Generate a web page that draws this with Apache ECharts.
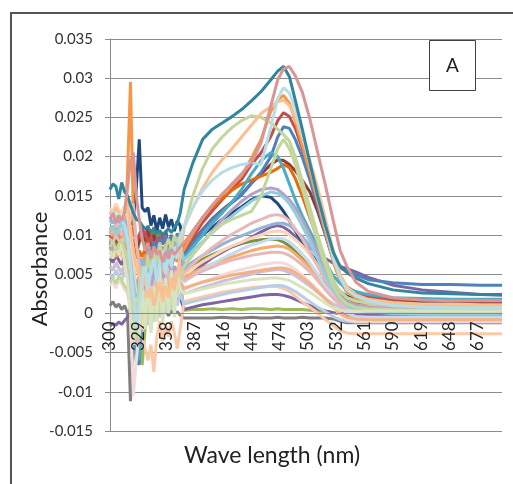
<!DOCTYPE html>
<html><head><meta charset="utf-8">
<script src="https://cdn.jsdelivr.net/npm/echarts@6/dist/echarts.min.js"></script>
<style>html,body{margin:0;padding:0;background:#fff}#c{width:513px;height:484px}</style>
</head><body><div id="c"></div>
<script>
const waves=[300,303,306,309,312,315,318,321,324,327,330,333,336,339,342,345,348,351,354,357,360,363,366,369,372,
376,385,395,405,415,425,435,445,455,465,472,478,484,490,497,505,513,521,529,536,543,552,565,590,620,650,680,702];
const xTickLabels=[300,329,358,387,416,445,474,503,532,561,590,619,648,677];

const absGray=[0.0010,0.0015,0.0008,0.0012,0.0005,0.0010,0.0000,-0.0112,-0.0030,0.0010,0.0000,0.0005,-0.0005,0.0008,-0.0002,0.0006,-0.0004,0.0005,0.0000,0.0004,-0.0003,0.0003,0.0000,0.0002,-0.0002,
-0.0006,-0.0006,-0.0006,-0.0006,-0.0005,-0.0006,-0.0006,-0.0005,-0.0006,-0.0006,-0.0005,-0.0006,-0.0006,-0.0006,-0.0005,-0.0006,-0.0006,-0.0006,-0.0007,-0.0010,-0.0012,-0.0012,-0.0012,-0.0012,-0.0012,-0.0012,-0.0012,-0.0012];
const absGreen=[0.0060,0.0055,0.0065,0.0058,0.0052,0.0062,0.0055,0.0040,0.0020,-0.0010,-0.0040,-0.0066,-0.0020,0.0010,0.0030,0.0045,0.0035,0.0050,0.0040,0.0055,0.0045,0.0050,0.0042,0.0048,0.0040,
0.0004,0.0005,0.0005,0.0006,0.0005,0.0006,0.0005,0.0006,0.0006,0.0005,0.0006,0.0005,0.0005,0.0005,0.0005,0.0004,0.0003,0.0002,0.0001,0.0000,-0.0002,-0.0003,-0.0004,-0.0004,-0.0004,-0.0004,-0.0004,-0.0004];
const absPurpleLow=[-0.0016,-0.0013,-0.0015,-0.0011,-0.0014,-0.0009,-0.0005,0.0010,0.0025,0.0015,0.0030,0.0020,0.0035,0.0015,0.0030,0.0010,0.0025,0.0015,0.0030,0.0020,0.0028,0.0018,0.0025,0.0015,0.0020,
0.0005,0.0008,0.0011,0.0013,0.0015,0.0017,0.0019,0.0021,0.0023,0.0024,0.0024,0.0023,0.0021,0.0018,0.0014,0.0010,0.0006,0.0003,0.0001,0.0000,-0.0001,-0.0001,-0.0001,-0.0001,-0.0001,-0.0001,-0.0001,-0.0001];
const absPeachLow=[0.0070,0.0075,0.0068,0.0078,0.0072,0.0065,0.0060,0.0040,0.0010,-0.0020,0.0000,-0.0030,-0.0045,-0.0060,-0.0040,-0.0075,-0.0030,-0.0010,-0.0035,-0.0015,-0.0030,-0.0010,-0.0025,-0.0045,-0.0020,
0.0015,0.0018,0.0021,0.0024,0.0027,0.0029,0.0031,0.0033,0.0034,0.0035,0.0034,0.0032,0.0028,0.0022,0.0015,0.0008,0.0000,-0.0008,-0.0016,-0.0022,-0.0025,-0.0026,-0.0026,-0.0026,-0.0026,-0.0026,-0.0026,-0.0026];
const absBlueLow=[0.0050,0.0045,0.0055,0.0048,0.0042,0.0052,0.0045,0.0030,0.0000,-0.0030,-0.0010,-0.0025,0.0000,-0.0015,0.0005,-0.0010,0.0010,-0.0005,0.0015,0.0000,0.0015,0.0005,0.0020,0.0010,0.0025,
0.0012,0.0015,0.0018,0.0021,0.0024,0.0027,0.0029,0.0031,0.0033,0.0035,0.0036,0.0035,0.0032,0.0028,0.0022,0.0015,0.0008,0.0002,-0.0004,-0.0008,-0.0010,-0.0011,-0.0011,-0.0011,-0.0011,-0.0011,-0.0011,-0.0011];
const absDarkGreen=[0.0090,0.0095,0.0088,0.0098,0.0092,0.0085,0.0080,0.0070,0.0085,0.0075,0.0090,0.0100,0.0085,0.0105,0.0092,0.0110,0.0095,0.0102,0.0088,0.0098,0.0090,0.0100,0.0085,0.0095,0.0090,
0.0055,0.0062,0.0069,0.0075,0.0080,0.0085,0.0089,0.0092,0.0094,0.0095,0.0094,0.0091,0.0086,0.0079,0.0070,0.0060,0.0049,0.0038,0.0029,0.0024,0.0021,0.0019,0.0017,0.0016,0.0016,0.0015,0.0015,0.0015];
const absPurple=[0.0070,0.0065,0.0075,0.0068,0.0062,0.0072,0.0080,0.0090,0.0075,0.0085,0.0100,0.0110,0.0095,0.0108,0.0090,0.0102,0.0088,0.0098,0.0092,0.0105,0.0085,0.0100,0.0090,0.0095,0.0088,
0.0042,0.0052,0.0062,0.0071,0.0078,0.0085,0.0090,0.0097,0.0104,0.0110,0.0112,0.0110,0.0105,0.0098,0.0091,0.0084,0.0077,0.0070,0.0064,0.0060,0.0057,0.0053,0.0046,0.0036,0.0030,0.0027,0.0024,0.0023];
const absDarkRed=[0.0090,0.0085,0.0095,0.0088,0.0080,0.0092,0.0085,0.0100,0.0090,0.0080,0.0095,0.0105,0.0092,0.0112,0.0085,0.0100,0.0078,0.0095,0.0088,0.0105,0.0080,0.0098,0.0090,0.0085,0.0092,
0.0076,0.0092,0.0107,0.0121,0.0132,0.0142,0.0152,0.0166,0.0178,0.0190,0.0196,0.0195,0.0190,0.0182,0.0170,0.0155,0.0130,0.0100,0.0068,0.0045,0.0032,0.0024,0.0018,0.0015,0.0014,0.0013,0.0013,0.0013];
const absNavy=[0.0085,0.0090,0.0082,0.0092,0.0088,0.0095,0.0100,0.0110,0.0120,0.0160,0.0222,0.0135,0.0130,0.0135,0.0112,0.0125,0.0105,0.0122,0.0108,0.0126,0.0110,0.0120,0.0105,0.0118,0.0112,
0.0075,0.0088,0.0100,0.0110,0.0120,0.0128,0.0136,0.0145,0.0150,0.0148,0.0140,0.0130,0.0118,0.0105,0.0092,0.0078,0.0064,0.0050,0.0037,0.0028,0.0022,0.0018,0.0015,0.0013,0.0012,0.0012,0.0011,0.0011];
const absRed=[0.0100,0.0092,0.0105,0.0098,0.0090,0.0102,0.0095,0.0088,0.0110,0.0090,0.0100,0.0095,0.0105,0.0088,0.0098,0.0080,0.0095,0.0085,0.0100,0.0090,0.0082,0.0095,0.0088,0.0098,0.0092,
0.0078,0.0097,0.0116,0.0131,0.0145,0.0158,0.0171,0.0190,0.0205,0.0226,0.0246,0.0256,0.0251,0.0236,0.0211,0.0179,0.0146,0.0106,0.0068,0.0045,0.0034,0.0027,0.0021,0.0018,0.0017,0.0016,0.0016,0.0016];
const absBlue=[0.0095,0.0088,0.0100,0.0092,0.0085,0.0098,0.0090,0.0060,0.0030,-0.0062,-0.0065,0.0020,0.0070,0.0085,0.0078,0.0092,0.0080,0.0095,0.0088,0.0100,0.0090,0.0098,0.0092,0.0102,0.0095,
0.0072,0.0090,0.0106,0.0120,0.0131,0.0141,0.0151,0.0166,0.0180,0.0200,0.0225,0.0238,0.0236,0.0222,0.0200,0.0170,0.0136,0.0101,0.0068,0.0058,0.0054,0.0049,0.0043,0.0039,0.0037,0.0037,0.0036,0.0036];
const absDarkOrange=[0.0085,0.0080,0.0090,0.0083,0.0078,0.0088,0.0082,0.0075,0.0085,0.0070,0.0080,0.0072,0.0082,0.0068,0.0078,0.0070,0.0080,0.0074,0.0085,0.0072,0.0080,0.0075,0.0088,0.0078,0.0082,
0.0085,0.0105,0.0122,0.0135,0.0147,0.0157,0.0165,0.0170,0.0175,0.0180,0.0185,0.0190,0.0186,0.0172,0.0150,0.0122,0.0095,0.0068,0.0042,0.0025,0.0016,0.0012,0.0010,0.0009,0.0009,0.0009,0.0009,0.0009];
const absOrange=[0.0105,0.0098,0.0110,0.0102,0.0095,0.0108,0.0180,0.0295,0.0120,0.0085,0.0070,0.0060,0.0075,0.0055,0.0068,0.0050,0.0062,0.0058,0.0070,0.0052,0.0065,0.0060,0.0072,0.0066,0.0075,
0.0082,0.0102,0.0122,0.0138,0.0152,0.0163,0.0176,0.0198,0.0222,0.0258,0.0272,0.0278,0.0268,0.0246,0.0215,0.0180,0.0143,0.0104,0.0066,0.0040,0.0027,0.0020,0.0015,0.0012,0.0011,0.0011,0.0010,0.0010];
const absTeal2=[0.0110,0.0105,0.0115,0.0108,0.0100,0.0112,0.0098,0.0080,0.0055,-0.0060,-0.0058,0.0030,0.0050,0.0065,0.0045,0.0070,0.0055,0.0075,0.0060,0.0068,0.0078,0.0062,0.0072,0.0080,0.0090,
0.0070,0.0085,0.0100,0.0115,0.0128,0.0142,0.0158,0.0178,0.0195,0.0205,0.0200,0.0185,0.0165,0.0145,0.0125,0.0105,0.0085,0.0065,0.0048,0.0038,0.0032,0.0028,0.0024,0.0020,0.0019,0.0018,0.0018,0.0018];
const absLightOrange=[0.0075,0.0080,0.0072,0.0082,0.0078,0.0070,0.0065,0.0045,0.0020,0.0005,0.0025,0.0010,0.0035,0.0015,0.0040,0.0020,0.0045,0.0030,0.0050,0.0035,0.0045,0.0030,0.0050,0.0040,0.0055,
0.0045,0.0052,0.0058,0.0063,0.0068,0.0072,0.0076,0.0080,0.0083,0.0085,0.0086,0.0085,0.0082,0.0076,0.0068,0.0058,0.0046,0.0033,0.0021,0.0013,0.0008,0.0005,0.0004,0.0003,0.0003,0.0003,0.0003,0.0003];
const absPaleBlue=[0.0115,0.0120,0.0112,0.0122,0.0118,0.0110,0.0100,0.0080,0.0050,0.0020,0.0040,0.0010,0.0030,0.0000,0.0025,-0.0010,0.0020,0.0005,0.0030,0.0010,0.0035,0.0015,0.0040,0.0025,0.0050,
0.0040,0.0048,0.0056,0.0063,0.0070,0.0076,0.0082,0.0087,0.0091,0.0095,0.0096,0.0095,0.0091,0.0085,0.0076,0.0064,0.0050,0.0035,0.0020,0.0008,0.0000,-0.0004,-0.0005,-0.0005,-0.0005,-0.0005,-0.0005,-0.0005];
const absPalePink=[0.0035,0.0040,0.0032,0.0042,0.0038,0.0030,0.0025,0.0000,-0.0105,-0.0060,-0.0020,0.0005,-0.0010,0.0015,-0.0005,0.0020,0.0000,0.0025,0.0005,0.0020,0.0010,0.0028,0.0015,0.0030,0.0035,
0.0030,0.0035,0.0040,0.0045,0.0049,0.0053,0.0056,0.0059,0.0062,0.0064,0.0065,0.0064,0.0061,0.0056,0.0049,0.0040,0.0030,0.0019,0.0008,-0.0002,-0.0008,-0.0010,-0.0010,-0.0010,-0.0010,-0.0010,-0.0010,-0.0010];
const absPaleLavender=[0.0060,0.0055,0.0065,0.0058,0.0050,0.0062,0.0055,0.0035,0.0010,-0.0010,0.0015,-0.0005,0.0020,0.0005,0.0025,0.0010,0.0030,0.0015,0.0025,0.0010,0.0030,0.0020,0.0035,0.0025,0.0040,
0.0025,0.0029,0.0033,0.0037,0.0041,0.0044,0.0047,0.0050,0.0053,0.0055,0.0056,0.0055,0.0052,0.0048,0.0042,0.0035,0.0027,0.0019,0.0012,0.0008,0.0006,0.0005,0.0005,0.0005,0.0005,0.0008,0.0008,0.0008];
const absSkyBlue=[0.0120,0.0115,0.0125,0.0118,0.0112,0.0122,0.0110,0.0090,0.0060,0.0030,0.0050,0.0070,0.0055,0.0080,0.0060,0.0085,0.0065,0.0090,0.0070,0.0088,0.0075,0.0092,0.0080,0.0095,0.0098,
0.0058,0.0066,0.0074,0.0081,0.0088,0.0094,0.0099,0.0104,0.0109,0.0113,0.0115,0.0115,0.0112,0.0106,0.0098,0.0086,0.0072,0.0056,0.0040,0.0028,0.0020,0.0016,0.0013,0.0011,0.0010,0.0010,0.0010,0.0010];
const absLightPeach=[0.0135,0.0130,0.0140,0.0132,0.0128,0.0138,0.0125,0.0100,0.0060,0.0020,0.0000,-0.0020,0.0010,-0.0010,0.0020,0.0005,0.0030,0.0015,0.0035,0.0020,0.0040,0.0030,0.0045,0.0035,0.0055,
0.0050,0.0058,0.0066,0.0073,0.0080,0.0086,0.0091,0.0096,0.0100,0.0104,0.0105,0.0104,0.0100,0.0094,0.0086,0.0075,0.0062,0.0048,0.0034,0.0022,0.0014,0.0010,0.0008,0.0007,0.0006,0.0006,0.0006,0.0006];
const absSalmon=[0.0100,0.0105,0.0098,0.0108,0.0102,0.0095,0.0090,0.0065,0.0030,0.0010,-0.0005,0.0015,0.0030,0.0005,0.0035,0.0010,0.0040,0.0020,0.0035,0.0015,0.0040,0.0025,0.0045,0.0030,0.0040,
0.0032,0.0036,0.0040,0.0043,0.0046,0.0049,0.0051,0.0053,0.0055,0.0057,0.0058,0.0058,0.0056,0.0052,0.0046,0.0038,0.0028,0.0018,0.0008,0.0000,-0.0005,-0.0007,-0.0008,-0.0008,-0.0008,-0.0008,-0.0008,-0.0008];
const absMidPink=[0.0110,0.0105,0.0115,0.0108,0.0100,0.0112,0.0105,0.0120,0.0140,0.0090,0.0060,0.0040,0.0055,0.0030,0.0050,0.0035,0.0055,0.0040,0.0060,0.0045,0.0055,0.0040,0.0060,0.0050,0.0065,
0.0042,0.0048,0.0054,0.0059,0.0064,0.0068,0.0071,0.0074,0.0076,0.0078,0.0078,0.0077,0.0074,0.0069,0.0062,0.0053,0.0042,0.0030,0.0019,0.0012,0.0009,0.0008,0.0008,0.0008,0.0008,0.0008,0.0008,0.0008];
const absPink=[0.0095,0.0090,0.0100,0.0093,0.0088,0.0097,0.0085,0.0060,0.0010,-0.0040,-0.0030,0.0020,0.0035,0.0010,0.0040,0.0020,0.0045,0.0025,0.0050,0.0030,0.0055,0.0035,0.0050,0.0045,0.0060,
0.0052,0.0063,0.0074,0.0084,0.0093,0.0101,0.0108,0.0115,0.0120,0.0125,0.0126,0.0124,0.0118,0.0108,0.0095,0.0078,0.0060,0.0042,0.0027,0.0017,0.0012,0.0010,0.0009,0.0008,0.0008,0.0008,0.0008,0.0008];
const absLavender=[0.0080,0.0085,0.0078,0.0088,0.0082,0.0075,0.0070,0.0050,0.0030,0.0010,0.0025,0.0045,0.0030,0.0050,0.0035,0.0055,0.0040,0.0060,0.0045,0.0055,0.0065,0.0050,0.0060,0.0055,0.0065,
0.0060,0.0075,0.0090,0.0105,0.0120,0.0132,0.0143,0.0152,0.0158,0.0160,0.0158,0.0152,0.0145,0.0135,0.0120,0.0100,0.0078,0.0055,0.0035,0.0022,0.0015,0.0011,0.0008,0.0006,0.0005,0.0005,0.0005,0.0005];
const absLightTeal=[0.0105,0.0112,0.0100,0.0108,0.0115,0.0102,0.0090,0.0070,0.0040,0.0010,0.0035,0.0060,0.0040,0.0070,0.0050,0.0075,0.0055,0.0080,0.0060,0.0078,0.0065,0.0082,0.0070,0.0088,0.0085,
0.0068,0.0080,0.0092,0.0103,0.0114,0.0124,0.0134,0.0143,0.0150,0.0155,0.0153,0.0148,0.0140,0.0128,0.0112,0.0092,0.0070,0.0048,0.0030,0.0018,0.0010,0.0005,0.0002,0.0000,-0.0001,-0.0001,-0.0001,-0.0001];
const absPaleGreen=[0.0040,0.0045,0.0038,0.0048,0.0042,0.0035,0.0030,0.0010,-0.0020,-0.0030,-0.0010,0.0010,-0.0015,0.0005,-0.0020,0.0010,-0.0010,0.0015,-0.0005,0.0020,0.0000,0.0025,0.0010,0.0030,0.0045,
0.0060,0.0075,0.0090,0.0104,0.0114,0.0120,0.0125,0.0130,0.0150,0.0185,0.0210,0.0222,0.0210,0.0190,0.0160,0.0125,0.0090,0.0060,0.0035,0.0020,0.0012,0.0008,0.0006,0.0005,0.0004,0.0003,0.0003,0.0003];
const absPaleGreen2=[0.0080,0.0070,0.0085,0.0075,0.0090,0.0065,0.0040,0.0000,-0.0040,0.0020,-0.0030,0.0040,-0.0020,0.0050,-0.0025,0.0035,-0.0010,0.0060,-0.0015,0.0045,0.0000,0.0055,-0.0005,0.0050,0.0030,
0.0025,0.0028,0.0031,0.0034,0.0037,0.0039,0.0041,0.0043,0.0044,0.0045,0.0045,0.0044,0.0042,0.0038,0.0033,0.0027,0.0020,0.0013,0.0007,0.0004,0.0003,0.0003,0.0003,0.0003,0.0003,0.0003,0.0003,0.0003];
const absGreenBroad=[0.0085,0.0092,0.0080,0.0088,0.0095,0.0082,0.0070,0.0050,0.0020,0.0000,0.0030,0.0060,0.0045,0.0075,0.0050,0.0080,0.0065,0.0090,0.0070,0.0085,0.0095,0.0080,0.0100,0.0090,0.0100,
0.0110,0.0150,0.0185,0.0210,0.0225,0.0237,0.0246,0.0252,0.0250,0.0243,0.0235,0.0228,0.0220,0.0200,0.0170,0.0135,0.0100,0.0068,0.0042,0.0028,0.0020,0.0016,0.0013,0.0011,0.0010,0.0010,0.0010,0.0010];
const absPeach=[0.0130,0.0122,0.0135,0.0128,0.0118,0.0125,0.0140,0.0110,0.0080,0.0060,0.0045,0.0030,0.0050,0.0020,0.0035,0.0010,0.0025,0.0040,0.0015,0.0035,0.0020,0.0045,0.0030,0.0050,0.0070,
0.0110,0.0135,0.0160,0.0180,0.0196,0.0210,0.0225,0.0240,0.0255,0.0264,0.0270,0.0272,0.0265,0.0250,0.0225,0.0195,0.0160,0.0120,0.0080,0.0050,0.0034,0.0024,0.0018,0.0014,0.0012,0.0012,0.0011,0.0011];
const absLightBlue=[0.0125,0.0130,0.0118,0.0128,0.0120,0.0112,0.0095,0.0060,0.0020,-0.0020,0.0010,0.0045,0.0060,0.0030,0.0055,0.0070,0.0040,0.0065,0.0080,0.0050,0.0075,0.0060,0.0085,0.0070,0.0095,
0.0112,0.0136,0.0156,0.0170,0.0180,0.0186,0.0190,0.0192,0.0190,0.0238,0.0274,0.0288,0.0281,0.0260,0.0230,0.0190,0.0150,0.0110,0.0070,0.0045,0.0030,0.0022,0.0016,0.0010,0.0008,0.0007,0.0007,0.0007];
const absTeal=[0.0158,0.0165,0.0162,0.0146,0.0167,0.0155,0.0150,0.0138,0.0128,0.0120,0.0118,0.0112,0.0108,0.0110,0.0104,0.0108,0.0102,0.0106,0.0100,0.0104,0.0108,0.0103,0.0110,0.0115,0.0128,
0.0158,0.0192,0.0222,0.0235,0.0243,0.0251,0.0260,0.0271,0.0283,0.0298,0.0309,0.0315,0.0302,0.0272,0.0236,0.0192,0.0150,0.0112,0.0078,0.0060,0.0052,0.0045,0.0038,0.0030,0.0026,0.0025,0.0024,0.0024];
const absRose=[0.0120,0.0128,0.0115,0.0125,0.0118,0.0130,0.0160,0.0195,0.0205,0.0150,0.0120,0.0095,0.0080,0.0090,0.0070,0.0085,0.0075,0.0080,0.0065,0.0078,0.0070,0.0082,0.0075,0.0080,0.0085,
0.0090,0.0105,0.0122,0.0138,0.0152,0.0165,0.0178,0.0192,0.0218,0.0265,0.0298,0.0312,0.0315,0.0303,0.0283,0.0248,0.0205,0.0163,0.0118,0.0080,0.0060,0.0040,0.0028,0.0020,0.0017,0.0016,0.0016,0.0016];

// drawing order (first drawn first) and line colours
const spectra=[absGray,absGreen,absPurpleLow,absPeachLow,absBlueLow,absDarkGreen,absPurple,absDarkRed,absNavy,absRed,absBlue,absDarkOrange,absOrange,absTeal2,
absLightOrange,absPaleBlue,absPalePink,absPaleLavender,absSkyBlue,absLightPeach,absSalmon,absMidPink,absPink,absLavender,absLightTeal,absPaleGreen,absPaleGreen2,
absGreenBroad,absPeach,absLightBlue,absTeal,absRose];
const colors=['#7F7F7F','#9BBB59','#8064A2','#FBC9A8','#B9CDE5','#77933C','#8064A2','#953735','#1F497D','#C0504D','#4F81BD','#E46C0A','#F79646','#4BACC6',
'#F9AB6B','#C6D9F1','#F2DCDB','#CCC1DA','#95B3D7','#FCD5B5','#F4B183','#E6B9B8','#E6B9B8','#B3A2C7','#92CDDC','#C3D69B','#D7E4BD',
'#C3D69B','#FAC090','#B7DEE8','#31859C','#D99694'];

const bad=spectra.map((a,i)=>a.length!==waves.length?i+':'+a.length:null).filter(Boolean);

const chart=echarts.init(document.getElementById('c'),null,{renderer:'canvas'});
const font='Lato, "Open Sans", sans-serif';
chart.setOption({
  animation:false,
  backgroundColor:'#fff',
  grid:{left:110,right:11,top:39,bottom:53},
  xAxis:{type:'value',min:300,max:702,z:10,offset:0,
    axisLine:{onZero:false,lineStyle:{color:'#8c8c8c',width:1}},
    axisTick:{show:false},
    splitLine:{show:false},
    axisLabel:{customValues:xTickLabels,rotate:90,margin:8,color:'#262626',fontSize:17,fontFamily:font}
  },
  yAxis:{type:'value',min:-0.015,max:0.035,interval:0.005,
    axisLine:{show:true,lineStyle:{color:'#8c8c8c'}},
    axisTick:{show:true,length:5,lineStyle:{color:'#8c8c8c'}},
    splitLine:{lineStyle:{color:'#8c8c8c',width:1}},
    axisLabel:{margin:17,color:'#333',fontSize:15,fontFamily:font,formatter:v=>String(+v.toFixed(3))}
  },
  series:spectra.map((arr,i)=>({type:'line',symbol:'none',silent:true,
    data:waves.map((w,j)=>[w,arr[j]]),
    lineStyle:{color:colors[i],width:3},itemStyle:{color:colors[i]}})),
  graphic:[
    {type:'line',shape:{x1:10,y1:13,x2:513,y2:13},style:{stroke:'#555',lineWidth:2},z:100},
    {type:'line',shape:{x1:11,y1:13,x2:11,y2:484},style:{stroke:'#555',lineWidth:2},z:100},
    {type:'rect',shape:{x:429.5,y:40.5,width:46,height:50},style:{fill:'#fff',stroke:'#404040',lineWidth:1},z:100},
    {type:'text',x:452.5,y:66,style:{text:'A',font:'19px '+font,fill:'#222',align:'center',verticalAlign:'middle'},z:101},
    {type:'text',x:272,y:456,style:{text:'Wave length (nm)',font:'23px '+font,fill:'#222',align:'center',verticalAlign:'middle'},z:101},
    {type:'text',x:40,y:269,rotation:Math.PI/2,style:{text:'Absorbance',font:'22px '+font,fill:'#222',align:'center',verticalAlign:'middle'},z:101},
    {type:'text',x:150,y:20,style:{text:bad.length?('LEN '+bad.join(' ')):'',font:'12px sans-serif',fill:'red'},z:101}
  ]
});
// move the wavelength axis up to the zero line of the absorbance scale
const yZero=chart.convertToPixel({yAxisIndex:0},0);
const yMin=chart.convertToPixel({yAxisIndex:0},-0.015);
chart.setOption({xAxis:{offset:yZero-yMin}});
</script></body></html>
